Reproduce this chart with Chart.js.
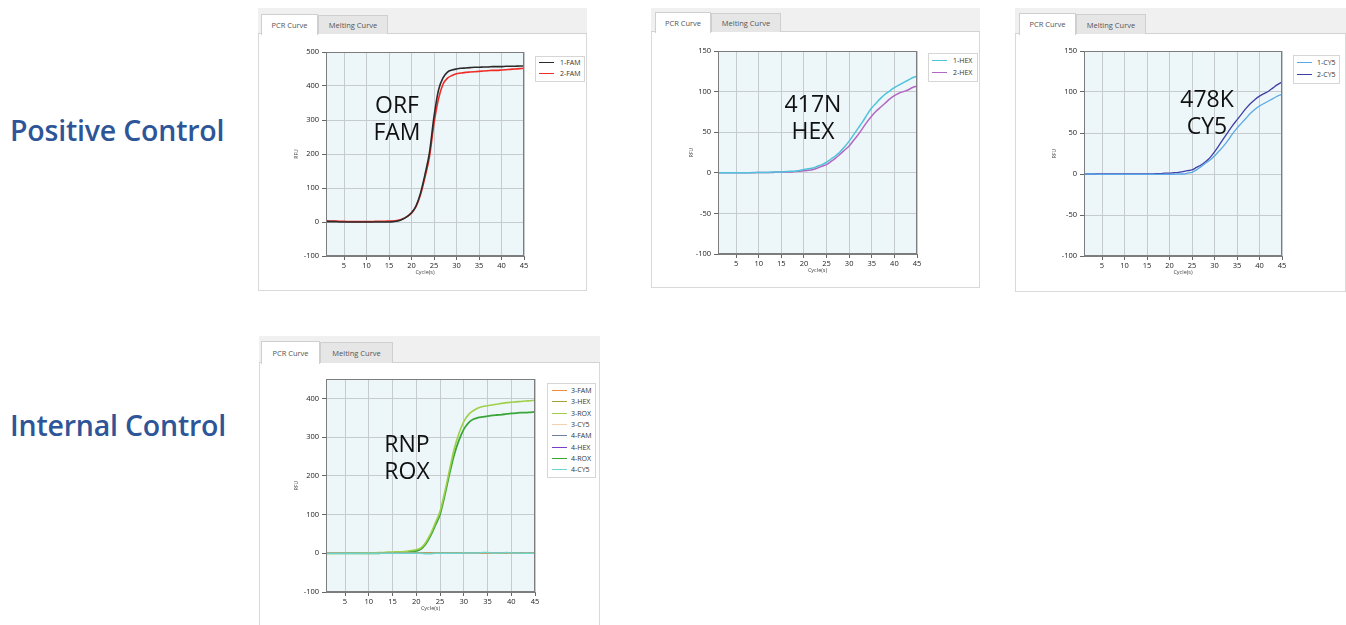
<!DOCTYPE html>
<html>
<head>
<meta charset="utf-8">
<script src="https://cdn.jsdelivr.net/npm/chart.js@4.4.1/dist/chart.umd.min.js"></script>
<style>
  html, body { margin: 0; padding: 0; }
  body { width: 1346px; height: 625px; position: relative; overflow: hidden; background: #fff; font-family: 'Open Sans', sans-serif; }
  .section { position: absolute; left: 10px; font-size: 28.5px; line-height: 29px; color: #2e5597; font-weight: 600; letter-spacing: -0.2px; white-space: nowrap; }
  .panel { position: absolute; background: #fff; overflow: hidden; box-shadow: inset 0 0 0 1px #d9d9d9; }
  .band { position: absolute; left: 0; top: 0; right: 0; background: #f0f0f0; border-bottom: 1px solid #d2d2d2; box-sizing: border-box; }
  .tab { position: absolute; box-sizing: border-box; border: 1px solid #cfcfcf; border-bottom: none; font-size: 7.5px; color: #555; text-align: center; white-space: nowrap; }
  .tab.on { background: #fff; }
  .tab.off { background: #e6e6e6; }
  .plot { position: absolute; }
  .tag { position: absolute; font-size: 23px; line-height: 27px; color: #111; font-weight: 500; text-align: center; transform: translateX(-50%); white-space: nowrap; }
  .legend { position: absolute; background: #fff; border: 1px solid #d6d6d6; box-sizing: border-box; font-size: 7px; color: #333; white-space: nowrap; }
  .legend .row { display: flex; align-items: center; }
  .legend .swatch { width: 15px; flex: none; }
</style>
</head>
<body>
<div class="section" style="top:116px">Positive Control</div>
<div class="section" style="top:411px">Internal Control</div>

<script>
// Cycle axis
const cycles = [1,2,3,4,5,6,7,8,9,10,11,12,13,14,15,16,17,18,19,20,21,22,23,24,25,26,27,28,29,30,31,32,33,34,35,36,37,38,39,40,41,42,43,44,45];
const xTicks = [5,10,15,20,25,30,35,40,45];

// ORF target, FAM channel
const famLabels = ['1-FAM', '2-FAM'];
const fam1 = [1,1,1,0,0, 0,0,0,0,0, 0,0,0,0,0, 1,3,8,16,27, 47,85,140,205,310, 388,424,441,447,450, 452,453,454,455,455, 456,456,457,457,457, 458,458,458,459,459];
const fam2 = [4,3,3,2,2, 1,1,1,1,1, 1,2,2,2,3, 3,5,9,16,26, 45,80,132,192,290, 362,405,423,431,436, 438,440,441,442,443, 444,445,446,446,447, 448,449,450,451,452];
const famYTicks = [-100,0,100,200,300,400,500];

// 417N target, HEX channel
const hexLabels = ['1-HEX', '2-HEX'];
const hex1 = [0,0,0,0,0, 0,0,0,0.5,0.5, 0.5,0.5,1,1,1, 1.5,2,2,3,4, 5,6,8,10,13, 17,21,26,32,39, 47,55,63,72,80, 86,92,97,101,105, 108,111,114,117,119];
const hex2 = [0,0,0,0,0, 0,0,0,0,0.5, 0.5,0.5,0.5,1,1, 1,1,1.5,2,2.5, 3,4,6,8,10, 14,18,23,28,33, 40,47,55,63,70, 76,81,86,91,95, 98,100,102,105,107];
const hexYTicks = [-100,-50,0,50,100,150];

// 478K target, CY5 channel
const cy5Labels = ['1-CY5', '2-CY5'];
const cy51 = [0,0,0,-0.5,-0.5, -0.5,-0.5,-0.5,-0.5,-0.5, -0.5,-0.5,-0.5,-0.5,-0.5, -0.5,-0.5,-0.5,-0.5,-0.5, -0.5,0,0,1,2, 5,9,13,17,22, 28,34,41,49,56, 62,68,74,79,83, 86,89,92,95,97];
const cy52 = [0,0,0,0,0, 0,0,0,0,0, 0,0,0,0,0, 0,0.5,0.5,1,1, 1.5,2,3,4,5, 8,11,15,20,27, 35,43,51,59,66, 73,80,86,91,95, 98,101,105,109,112];
const cy5YTicks = [-100,-50,0,50,100,150];

// RNP internal control, all channels of wells 3 and 4
const rnpLabels = ['3-FAM','3-HEX','3-ROX','3-CY5','4-FAM','4-HEX','4-ROX','4-CY5'];
const fam3 = [1,1,1,1,0, 0,0,0,0,0, 0,0,0,0,0, 0,0,0,0,0, 0,0,0,0,0, 0,0,0,0,0, 0,0,0,0,0, 0,0,0,0,0, 0,0,0,0,0];
const hex3 = [0,0,0,0,0, 0,0,0,0,0, 0,0,1,1,1, 1,1,1,1,1, 1,1,1,1,1, 1,1,1,1,1, 1,1,1,1,1, 1,1,1,1,1, 1,1,1,1,1];
const rox3 = [0,0,0,0,0, 0,0,1,1,1, 1,2,2,3,3, 4,4,5,7,9, 14,28,50,78,108, 158,215,270,310,340, 358,368,375,379,381, 383,385,387,389,390, 391,392,393,394,395];
const cy53 = [0,0,0,0,0, 0,0,0,0,0, 0,0,0,0,0, 0,0,0,0,0, 0,0,0,0,0, 0,0,0,0,0, 0,0,0,0,0, 0,0,0,0,0, 0,0,0,0,0];
const fam4 = [0,0,0,0,0, 0,0,0,0,0, 0,0,0,0,0, 0,0,0,0,0, 0,0,0,0,0, 0,0,0,0,0, 0,0,0,0,0, 0,0,0,0,0, 0,0,0,0,0];
const hex4 = [0,0,0,0,0, 0,0,0,0,0, 0,0,0,0,0, 0,0,0,0,0, 0,0,0,0,0, 0,0,0,0,1, 1,1,1,1,1, 1,1,1,1,1, 1,1,0,0,0];
const rox4 = [0,0,0,0,0, 0,0,0,0,0, 0,0,1,1,1, 2,2,3,4,6, 11,24,45,72,100, 150,205,255,292,320, 337,346,350,352,354, 356,357,358,360,361, 362,363,363,364,365];
const cy54 = [0,0,0,0,0, 0,0,0,0,0, 0,0,0,0,0, 0,0,0,0,0, 0,-1,-1,0,0, 0,0,0,0,1, 1,1,1,2,2, 1,1,1,2,1, 1,0,0,0,0];
const rnpYTicks = [-100,0,100,200,300,400];
const rnpYMax = 450;

// Shared plot-box dimensions
const PAD_T = 8, PAD_R = 12, X_AXIS_H = 22;

const panels = [
  {
    box: { left: 258, top: 8, width: 329, height: 283, band: 26 },
    tabs: [{ x: 3, w: 57, t: 6, h: 20 }, { x: 60, w: 70, t: 7, h: 19 }],
    plot: { left: 326, top: 52, width: 198, height: 204 }, yAxisW: 34,
    yMin: famYTicks[0], yMax: famYTicks[famYTicks.length - 1], yTicks: famYTicks,
    series: [
      { label: famLabels[0], values: fam1, color: '#2b2b2b', width: 1.6 },
      { label: famLabels[1], values: fam2, color: '#ee2c24', width: 1.6 }
    ],
    legend: { left: 535, top: 56, width: 50, rowH: 11, padT: 0, swatchL: 3, gap: 6 },
    tag: { lines: ['ORF', 'FAM'], cx: 397, top: 91 }
  },
  {
    box: { left: 651, top: 8, width: 329, height: 280, band: 24 },
    tabs: [{ x: 4, w: 56, t: 4, h: 20 }, { x: 60, w: 70, t: 5, h: 19 }],
    plot: { left: 718, top: 51, width: 199, height: 203 }, yAxisW: 31,
    yMin: hexYTicks[0], yMax: hexYTicks[hexYTicks.length - 1], yTicks: hexYTicks,
    series: [
      { label: hexLabels[0], values: hex1, color: '#4fc3d9', width: 1.5 },
      { label: hexLabels[1], values: hex2, color: '#b466c4', width: 1.5 }
    ],
    legend: { left: 928, top: 53, width: 50, rowH: 12.5, padT: 0, swatchL: 3, gap: 6 },
    tag: { lines: ['417N', 'HEX'], cx: 813, top: 90 }
  },
  {
    box: { left: 1015, top: 8, width: 331, height: 284, band: 26 },
    tabs: [{ x: 4, w: 57, t: 5, h: 21 }, { x: 61, w: 70, t: 6, h: 20 }],
    plot: { left: 1084, top: 51, width: 198, height: 205 }, yAxisW: 34,
    yMin: cy5YTicks[0], yMax: cy5YTicks[cy5YTicks.length - 1], yTicks: cy5YTicks,
    series: [
      { label: cy5Labels[0], values: cy51, color: '#5aa9e6', width: 1.3 },
      { label: cy5Labels[1], values: cy52, color: '#3f3fa8', width: 1.3 }
    ],
    legend: { left: 1293, top: 55, width: 47, rowH: 12.3, padT: 0.5, swatchL: 3, gap: 5 },
    tag: { lines: ['478K', 'CY5'], cx: 1207, top: 85 }
  },
  {
    box: { left: 259, top: 336, width: 341, height: 300, band: 27 },
    tabs: [{ x: 2, w: 59, t: 5, h: 22 }, { x: 61, w: 73, t: 6, h: 21 }],
    plot: { left: 326, top: 379, width: 209, height: 213 }, yAxisW: 34,
    yMin: rnpYTicks[0], yMax: rnpYMax, yTicks: rnpYTicks,
    series: [
      { label: rnpLabels[0], values: fam3, color: '#f08a3c', width: 1 },
      { label: rnpLabels[1], values: hex3, color: '#a6a03c', width: 1.3 },
      { label: rnpLabels[2], values: rox3, color: '#9ed04a', width: 1.6 },
      { label: rnpLabels[3], values: cy53, color: '#f3d2b0', width: 1 },
      { label: rnpLabels[4], values: fam4, color: '#6f7f9f', width: 1 },
      { label: rnpLabels[5], values: hex4, color: '#7a3fc8', width: 1.6 },
      { label: rnpLabels[6], values: rox4, color: '#3aa63a', width: 1.8 },
      { label: rnpLabels[7], values: cy54, color: '#6fd3cf', width: 1.5, order: -1 }
    ],
    legend: { left: 547, top: 383, width: 49, rowH: 11.3, padT: 1, swatchL: 4, gap: 4 },
    tag: { lines: ['RNP', 'ROX'], cx: 407, top: 430 }
  }
];

// Chart-area tint and dark frame around the plot
const plotFrame = {
  id: 'plotFrame',
  beforeDraw(chart) {
    const a = chart.chartArea, ctx = chart.ctx;
    ctx.save();
    ctx.fillStyle = '#edf6f9';
    ctx.fillRect(a.left, a.top, a.right - a.left, a.bottom - a.top);
    ctx.restore();
  },
  afterDraw(chart) {
    const a = chart.chartArea, ctx = chart.ctx;
    ctx.save();
    ctx.strokeStyle = '#7d7d7d';
    ctx.lineWidth = 1;
    ctx.strokeRect(Math.round(a.left) + 0.5, Math.round(a.top) + 0.5,
                   Math.round(a.right - a.left) - 1, Math.round(a.bottom - a.top) - 1);
    ctx.restore();
  }
};

const tickFont = { family: "'Open Sans', sans-serif", size: 7.5 };
const titleFont = { family: "'Open Sans', sans-serif", size: 5.5 };

function buildPanel(p) {
  // Frame with the tab strip
  const panel = document.createElement('div');
  panel.className = 'panel';
  Object.assign(panel.style, { left: p.box.left + 'px', top: p.box.top + 'px', width: p.box.width + 'px', height: p.box.height + 'px' });
  const band = document.createElement('div');
  band.className = 'band';
  band.style.height = p.box.band + 'px';
  panel.appendChild(band);
  ['PCR Curve', 'Melting Curve'].forEach((name, i) => {
    const t = p.tabs[i];
    const tab = document.createElement('div');
    tab.className = 'tab ' + (i === 0 ? 'on' : 'off');
    Object.assign(tab.style, { left: t.x + 'px', top: t.t + 'px', width: t.w + 'px', height: (t.h + (i === 0 ? 1 : 0)) + 'px', lineHeight: t.h + 'px' });
    tab.textContent = name;
    panel.appendChild(tab);
  });

  // Legend
  const lg = document.createElement('div');
  lg.className = 'legend';
  Object.assign(lg.style, { left: (p.legend.left - p.box.left) + 'px', top: (p.legend.top - p.box.top) + 'px', width: p.legend.width + 'px', paddingTop: p.legend.padT + 'px', paddingBottom: '2px' });
  p.series.forEach(s => {
    const row = document.createElement('div');
    row.className = 'row';
    row.style.height = p.legend.rowH + 'px';
    const sw = document.createElement('div');
    sw.className = 'swatch';
    Object.assign(sw.style, { marginLeft: p.legend.swatchL + 'px', marginRight: p.legend.gap + 'px', borderTop: s.width + 'px solid ' + s.color });
    const tx = document.createElement('span');
    tx.textContent = s.label;
    row.appendChild(sw);
    row.appendChild(tx);
    lg.appendChild(row);
  });
  panel.appendChild(lg);
  document.body.appendChild(panel);

  // Chart canvas
  const wrap = document.createElement('div');
  wrap.className = 'plot';
  Object.assign(wrap.style, {
    left: (p.plot.left - p.yAxisW) + 'px', top: (p.plot.top - PAD_T) + 'px',
    width: (p.yAxisW + p.plot.width + PAD_R) + 'px', height: (PAD_T + p.plot.height + X_AXIS_H) + 'px'
  });
  const cv = document.createElement('canvas');
  wrap.appendChild(cv);
  document.body.appendChild(wrap);

  new Chart(cv, {
    type: 'line',
    data: {
      datasets: p.series.map(s => ({
        label: s.label,
        data: cycles.map((c, i) => ({ x: c, y: s.values[i] })),
        borderColor: s.color,
        backgroundColor: s.color,
        borderWidth: s.width,
        pointRadius: 0,
        cubicInterpolationMode: 'monotone',
        fill: false,
        order: s.order || 0
      }))
    },
    options: {
      responsive: true, maintainAspectRatio: false, animation: false, devicePixelRatio: 1,
      layout: { padding: { left: 0, top: PAD_T, right: PAD_R, bottom: 0 } },
      plugins: { legend: { display: false }, tooltip: { enabled: false } },
      scales: {
        x: {
          type: 'linear', min: cycles[0], max: cycles[cycles.length - 1],
          afterBuildTicks: s => { s.ticks = xTicks.map(v => ({ value: v })); },
          afterFit: s => { s.height = X_AXIS_H; },
          ticks: { font: tickFont, color: '#222', padding: 1, maxRotation: 0, autoSkip: false },
          grid: { color: '#c6cbce', tickLength: 4, tickColor: '#666' },
          border: { color: '#7d7d7d' },
          title: { display: true, text: 'Cycle(s)', font: titleFont, color: '#444', padding: { top: 0, bottom: 2 } }
        },
        y: {
          min: p.yMin, max: p.yMax,
          afterBuildTicks: s => { s.ticks = p.yTicks.map(v => ({ value: v })); },
          afterFit: s => { s.width = p.yAxisW; },
          ticks: { font: tickFont, color: '#222', padding: 3 },
          grid: { color: '#c6cbce', tickLength: 4, tickColor: '#666' },
          border: { color: '#7d7d7d' },
          title: { display: true, text: 'RFU', font: { family: "'Open Sans', sans-serif", size: 5 }, color: '#444', padding: { top: 2, bottom: 2 } }
        }
      }
    },
    plugins: [plotFrame]
  });

  // Target / channel caption inside the plot
  const tag = document.createElement('div');
  tag.className = 'tag';
  Object.assign(tag.style, { left: p.tag.cx + 'px', top: p.tag.top + 'px' });
  tag.innerHTML = p.tag.lines.join('<br>');
  document.body.appendChild(tag);
}

panels.forEach(buildPanel);
</script>
</body>
</html>
